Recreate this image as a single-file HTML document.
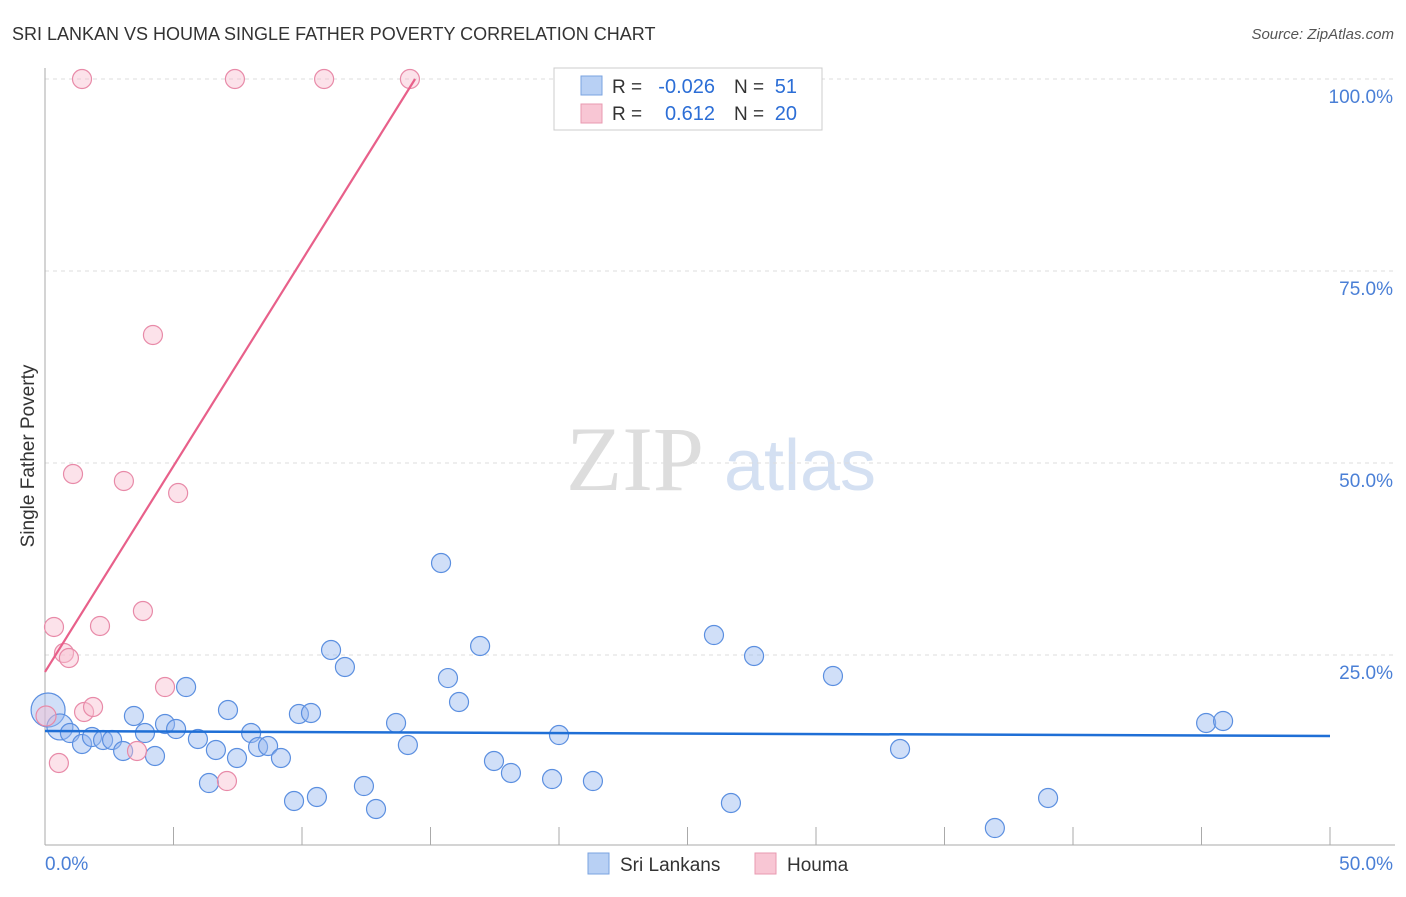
<!DOCTYPE html>
<html><head><meta charset="utf-8"><style>
body{margin:0;background:#fff;font-family:"Liberation Sans",sans-serif;}
</style></head><body>
<svg width="1406" height="892" xmlns="http://www.w3.org/2000/svg" font-family="Liberation Sans, sans-serif">
<text x="12" y="40" font-size="18" fill="#333">SRI LANKAN VS HOUMA SINGLE FATHER POVERTY CORRELATION CHART</text>
<text x="1394" y="39" font-size="15" fill="#555" font-style="italic" text-anchor="end">Source: ZipAtlas.com</text>
<g><text x="635" y="490" font-size="92" fill="#ddd" font-family="Liberation Serif, serif" text-anchor="middle">ZIP</text><text x="800" y="490" font-size="72" fill="#d4e0f2" text-anchor="middle">atlas</text></g>
<text transform="translate(34,456) rotate(-90)" font-size="19" fill="#333" text-anchor="middle">Single Father Poverty</text>
<g id="grid"></g><g id="axes"></g><g id="pts"></g><g id="trends"></g>
<g>
<rect x="554" y="68" width="268" height="62" fill="#fff" stroke="#ccc"/>
<rect x="581" y="76" width="21" height="19" fill="#b8d0f4" stroke="#7aa3e0"/>
<rect x="581" y="104" width="21" height="19" fill="#f8c6d4" stroke="#e89ab0"/>
<text x="612" y="93" font-size="19" fill="#333">R =</text>
<text x="715" y="93" font-size="20" fill="#2c6ed6" text-anchor="end">-0.026</text>
<text x="734" y="93" font-size="19" fill="#333">N =</text>
<text x="797" y="93" font-size="20" fill="#2c6ed6" text-anchor="end">51</text>
<text x="612" y="120" font-size="19" fill="#333">R =</text>
<text x="715" y="120" font-size="20" fill="#2c6ed6" text-anchor="end">0.612</text>
<text x="734" y="120" font-size="19" fill="#333">N =</text>
<text x="797" y="120" font-size="20" fill="#2c6ed6" text-anchor="end">20</text>
</g>
<g>
<rect x="588" y="853" width="21" height="21" fill="#b8d0f4" stroke="#7aa3e0"/>
<text x="620" y="871" font-size="19" fill="#333">Sri Lankans</text>
<rect x="755" y="853" width="21" height="21" fill="#f8c6d4" stroke="#e89ab0"/>
<text x="787" y="871" font-size="19" fill="#333">Houma</text>
</g>
</svg>
<script>
const blueX=[0.12,0.58,0.97,1.44,1.83,2.26,2.61,3.04,3.46,3.89,4.28,4.67,5.10,5.49,5.95,6.38,6.65,7.12,7.47,8.02,8.29,8.68,9.18,9.69,9.88,10.35,10.58,11.13,11.67,12.41,12.88,13.66,14.12,15.41,15.68,16.11,16.93,17.47,18.13,19.73,20.00,21.32,26.03,26.69,27.59,30.66,33.27,36.96,39.03,45.18,45.84];
const blueY=[17.84,15.63,14.84,13.41,14.32,13.93,13.93,12.5,17.06,14.84,11.85,16.02,15.36,20.83,14.06,8.33,12.63,17.84,11.59,14.84,13.02,13.15,11.59,5.99,17.32,17.45,6.51,25.65,23.44,7.94,4.95,16.15,13.28,36.98,22.0,18.88,26.17,11.2,9.64,8.85,14.58,8.59,27.6,5.73,24.87,22.27,12.76,2.47,6.38,16.15,16.41];
const pinkX=[0.04,0.35,0.54,0.74,0.93,1.09,1.44,1.52,1.87,2.14,3.07,3.58,3.81,4.20,4.67,5.18,7.08,7.39,10.86,14.2];
const pinkY=[17.06,28.65,10.94,25.26,24.61,48.57,100,17.58,18.23,28.78,47.66,12.5,30.73,66.67,20.83,46.09,8.59,100,100,100];
const blueTrend=[[0,15.1],[50,14.45]];
const pinkTrend=[[0,22.8],[14.4,100]];
const yTicks=[25,50,75,100];
const yTickLabels=["25.0%","50.0%","75.0%","100.0%"];
const NS="http://www.w3.org/2000/svg";
const sx=v=>45+v/50*1285, sy=v=>847-v/100*768;
function mk(tag,at,parent){const e=document.createElementNS(NS,tag);for(const k in at)e.setAttribute(k,at[k]);document.getElementById(parent).appendChild(e);return e;}
yTicks.forEach((t,i)=>{
 const l=mk('line',{x1:45,x2:1395,y1:sy(t),y2:sy(t),stroke:'#ddd','stroke-dasharray':'4,4'},'grid');
 
 
 const tx=mk('text',{x:1393,y:sy(t)+24,'font-size':19,fill:'#4a7fd6','text-anchor':'end'},'axes');
 tx.textContent=yTickLabels[i];
 
 
});
let a=mk('line',{x1:45,x2:45,y1:68,y2:845,stroke:'#aaa'},'axes');


a=mk('line',{x1:45,x2:1395,y1:845,y2:845,stroke:'#aaa'},'axes');


for(let k=1;k<=10;k++){const t=mk('line',{x1:sx(k*5),x2:sx(k*5),y1:827,y2:845,stroke:'#aaa'},'axes');
 
 }
let t0=mk('text',{x:45,y:870,'font-size':19,fill:'#4a7fd6'},'axes');t0.textContent='0.0%';


t0=mk('text',{x:1393,y:870,'font-size':19,fill:'#4a7fd6','text-anchor':'end'},'axes');t0.textContent='50.0%';


blueX.forEach((x,i)=>{const c=mk('circle',{cx:sx(x),cy:sy(blueY[i]),r:i==0?17:(i==1?13:9.5),fill:'rgba(150,185,240,0.45)',stroke:'#5b8fe0','stroke-width':1.2},'pts');
 
 });
pinkX.forEach((x,i)=>{const c=mk('circle',{cx:sx(x),cy:sy(pinkY[i]),r:i==0?10:9.5,fill:'rgba(248,190,208,0.45)',stroke:'#e88aa8','stroke-width':1.2},'pts');
 
 });
let tl=mk('line',{x1:sx(blueTrend[0][0]),y1:sy(blueTrend[0][1]),x2:sx(blueTrend[1][0]),y2:sy(blueTrend[1][1]),stroke:'#1f6fd6','stroke-width':2.5},'trends');


tl=mk('line',{x1:sx(pinkTrend[0][0]),y1:sy(pinkTrend[0][1]),x2:sx(pinkTrend[1][0]),y2:sy(pinkTrend[1][1]),stroke:'#e8608a','stroke-width':2.2},'trends');


</script>
</body></html>
